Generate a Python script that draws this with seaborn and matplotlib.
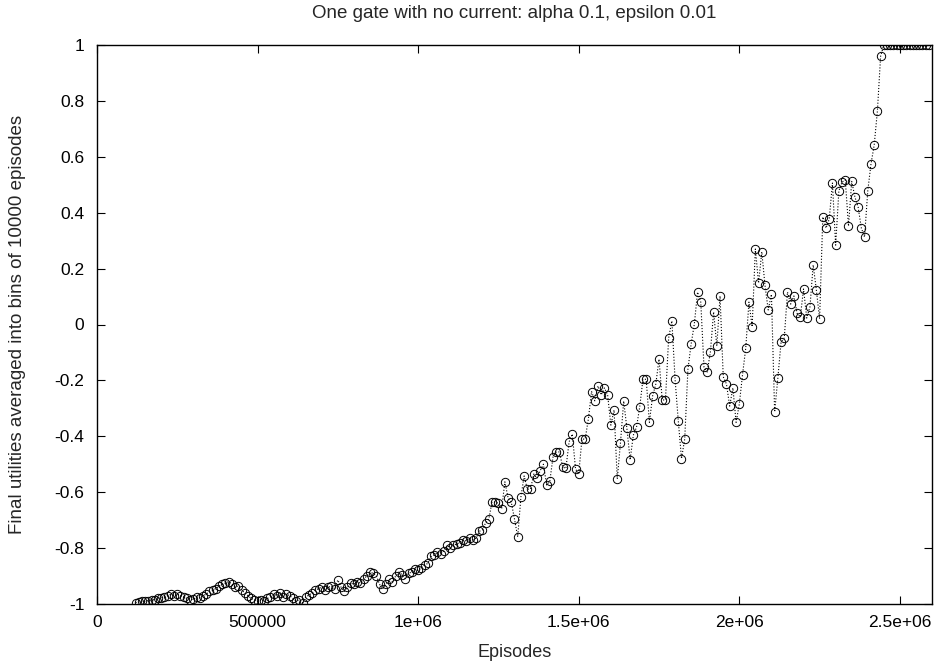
import numpy as np
import pandas as pd
import matplotlib
matplotlib.use("Agg")
import matplotlib.pyplot as plt
import seaborn as sns

# ---- data ----
bin_start = 120000
bin_width = 10000
utility = [
    -0.995, -0.993, -0.99, -0.99, -0.988, -0.985, -0.985, -0.98, -0.978,
    -0.975, -0.97, -0.965, -0.97, -0.965, -0.97, -0.975,
    -0.98, -0.985, -0.983, -0.975, -0.978,
    -0.97, -0.965, -0.955, -0.95, -0.945, -0.935, -0.93, -0.925, -0.92,
    -0.928, -0.94, -0.935,
    -0.95, -0.96, -0.97, -0.98, -0.985, -0.99, -0.985, -0.99,
    -0.98, -0.975, -0.965, -0.97, -0.96, -0.975, -0.965, -0.97,
    -0.98, -0.99, -0.985, -0.995,
    -0.975, -0.968, -0.96, -0.95, -0.945, -0.939,
    -0.95, -0.94, -0.935, -0.945, -0.914,
    -0.94, -0.955, -0.94, -0.925, -0.93, -0.92, -0.925,
    -0.91, -0.9, -0.886, -0.89,
    -0.90, -0.93, -0.945, -0.93,
    -0.91, -0.92, -0.9, -0.886, -0.895,
    -0.91, -0.89, -0.886, -0.875, -0.88,
    -0.87, -0.86, -0.855, -0.83, -0.825,
    -0.815, -0.82, -0.81, -0.79, -0.80,
    -0.79, -0.785, -0.78, -0.77, -0.775, -0.765, -0.77, -0.765, -0.74,
    -0.735, -0.71, -0.696, -0.635, -0.635, -0.64, -0.66, -0.563, -0.62, -0.636,
    -0.696, -0.76, -0.617, -0.542, -0.589, -0.589, -0.535, -0.55, -0.523, -0.50,
    -0.574, -0.56, -0.474, -0.456, -0.456, -0.51, -0.515, -0.42, -0.392, -0.517,
    -0.535, -0.41, -0.41, -0.338, -0.24, -0.273, -0.22,
    -0.252, -0.227, -0.252, -0.36, -0.306, -0.553, -0.423, -0.274, -0.372, -0.484,
    -0.396, -0.367, -0.294, -0.196, -0.196, -0.35, -0.256, -0.213, -0.124, -0.27,
    -0.27, -0.048, 0.013, -0.196, -0.345, -0.48, -0.41, -0.16, -0.07, 0.002,
    0.116, 0.08, -0.152, -0.17, -0.098, 0.045, -0.077, 0.102, -0.187, -0.213,
    -0.292, -0.227, -0.35, -0.285, -0.18, -0.085, 0.08, -0.008, 0.27, 0.148,
    0.26, 0.14, 0.052, 0.108, -0.313, -0.192, -0.063, -0.048, 0.116, 0.073,
    0.102, 0.04, 0.027, 0.127, 0.023, 0.063, 0.213, 0.123, 0.02, 0.385,
    0.345, 0.377, 0.506, 0.284, 0.478, 0.51, 0.517, 0.352, 0.512, 0.456,
    0.42, 0.345, 0.313, 0.478, 0.574, 0.642, 0.764, 0.96,
    1.0, 1.0, 1.0, 1.0, 1.0, 1.0, 1.0, 1.0, 1.0, 1.0, 1.0, 1.0, 1.0, 1.0, 1.0,
]
episodes = [bin_start + bin_width * i for i in range(len(utility))]

xticks = [0, 500000, 1000000, 1500000, 2000000, 2500000]
xtick_labels = ["0", "500000", "1e+06", "1.5e+06", "2e+06", "2.5e+06"]
yticks = [-1, -0.8, -0.6, -0.4, -0.2, 0, 0.2, 0.4, 0.6, 0.8, 1]
ytick_labels = ["-1", "-0.8", "-0.6", "-0.4", "-0.2", "0", "0.2", "0.4", "0.6", "0.8", "1"]

title = "One gate with no current: alpha 0.1, epsilon 0.01"
xlabel = "Episodes"
ylabel = "Final utilities averaged into bins of 10000 episodes"

# ---- style ----
sns.set_style("ticks")
plt.rcParams["font.family"] = ["Liberation Sans", "DejaVu Sans"]
plt.rcParams["axes.unicode_minus"] = False

W, H = 937, 667
fig = plt.figure(figsize=(W / 100, H / 100), dpi=100)
L, R, T, B = 97, 932, 45, 604
ax = fig.add_axes([L / W, 1 - B / H, (R - L) / W, (B - T) / H])

df = pd.DataFrame({"Episodes": episodes, "utility": utility})
sns.lineplot(
    data=df, x="Episodes", y="utility", ax=ax,
    color="black", linestyle=":", linewidth=0.8,
    marker="o", markersize=6, markerfacecolor="none",
    markeredgecolor="black", markeredgewidth=0.7,
)

ax.set_xlim(0, 2600000)
ax.set_ylim(-1, 1)
ax.set_xticks(xticks)
ax.set_xticklabels(xtick_labels)
ax.set_yticks(yticks)
ax.set_yticklabels(ytick_labels)
ax.tick_params(direction="in", length=6, width=0.8, top=True, right=True,
               labelsize=12.5, colors="black")
ax.tick_params(axis="y", pad=9)
ax.tick_params(axis="x", pad=8)
for s in ax.spines.values():
    s.set_visible(True)
    s.set_linewidth(1.0)
    s.set_color("black")

ax.set_xlabel(xlabel, fontsize=13)
ax.set_ylabel(ylabel, fontsize=13.5)
ax.xaxis.set_label_coords(0.5, (B - 644) / (B - T))
ax.yaxis.set_label_coords((26 - L) / (R - L), 0.5)

fig.text((L + R) / 2 / W, 1 - 14 / H, title, ha="center", va="center", fontsize=13.5)

fig.savefig("out.png", dpi=100)
